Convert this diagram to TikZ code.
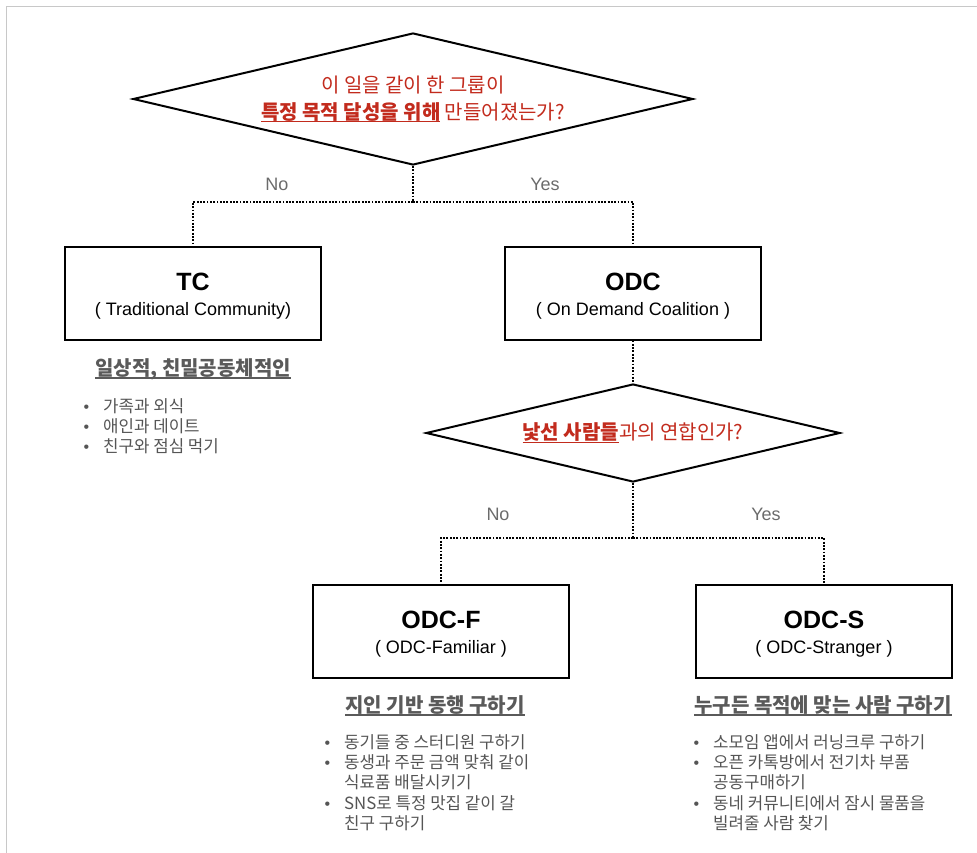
\documentclass[tikz,border=0pt]{standalone}
\usepackage{fontspec}
\setmainfont{Noto Sans CJK KR}
\newfontfamily\lat{Liberation Sans}
\usetikzlibrary{shapes.geometric}
\definecolor{qred}{HTML}{C22B1D}
\definecolor{hgray}{HTML}{5A5A5A}
\definecolor{tgray}{HTML}{555555}
\definecolor{lgray}{HTML}{6B6B6B}
\definecolor{framec}{HTML}{C8C8C8}
\newsavebox{\ulbox}
\newcommand{\myul}[1]{\sbox{\ulbox}{#1}\usebox{\ulbox}\hspace{-\wd\ulbox}\rule[-3.2pt]{\wd\ulbox}{1.3pt}}
\newcommand{\blt}{\makebox[19.6pt][l]{\lat\fontsize{16}{20}\selectfont •}}
\newcommand{\bcont}{\hspace*{19.6pt}}
\begin{document}
\begin{tikzpicture}[x=1pt,y=-1pt,
  dia/.style={diamond, draw, line width=2pt, inner sep=0pt, shape aspect=4.2, align=center,
    font=\fontsize{20}{27}\selectfont, text=qred},
  box/.style={draw, line width=2pt, minimum width=256pt, minimum height=93pt, inner sep=0pt},
  ttl/.style={font=\lat\bfseries\fontsize{25}{30}\selectfont, inner sep=0pt},
  sub/.style={font=\lat\fontsize{18}{22}\selectfont, inner sep=0pt},
  yn/.style={font=\lat\fontsize{18}{22}\selectfont, text=lgray, inner sep=0pt},
  head/.style={font=\bfseries\fontsize{20}{24}\selectfont, text=hgray, anchor=base, inner sep=0pt},
  lst/.style={font=\fontsize{16.8}{20}\selectfont, text=tgray, anchor=base west, inner sep=0pt},
  conn/.style={line width=1.8pt, dash pattern=on 1.8pt off 1.5pt}
]
\useasboundingbox (0,0) rectangle (977,853);
\draw[framec, line width=1pt] (6,853) -- (6,7) -- (977,7);

% first decision
\node[dia, minimum width=560pt, minimum height=132pt] (d1) at (413,99)
  {이 일을 같이 한 그룹이\\\myul{\textbf{특정 목적 달성을 위해}} 만들어졌는가?};

\node[box] (tc) at (193,293) {};
\node[ttl] (tct) at (193,282) {TC};
\node[sub] (tcs) at (193,311) {( Traditional Community)};

\node[box] (odc) at (633,293) {};
\node[ttl] (odct) at (633,282) {ODC};
\node[sub] (odcs) at (633,311) {( On Demand Coalition )};

\coordinate (j1) at (413,202);
\draw[conn] (d1.south) -- (j1);
\draw[conn] (j1) -| (tc.north);
\draw[conn] (j1) -| (odc.north);
\node[yn] (no1) at (277,184) {No};
\node[yn] (yes1) at (545,184) {Yes};

% TC description
\node[head] (tch) at (193,375.5) {\myul{일상적, 친밀공동체적인}};
\node[lst] (tc1) at (83.4,412) {\blt 가족과 외식};
\node[lst] (tc2) at (83.4,432) {\blt 애인과 데이트};
\node[lst] (tc3) at (83.4,452) {\blt 친구와 점심 먹기};

% second decision
\node[dia, minimum width=414pt, minimum height=98pt] (d2) at (633,433)
  {\myul{\textbf{낯선 사람들}}과의 연합인가?};
\draw[conn] (odc.south) -- (d2.north);

\node[box] (odcf) at (441,631) {};
\node[ttl] (odcft) at (441,620) {ODC-F};
\node[sub] (odcfs) at (441,649) {( ODC-Familiar )};

\node[box] (odcsb) at (824,631) {};
\node[ttl] (odcst) at (824,620) {ODC-S};
\node[sub] (odcss) at (824,649) {( ODC-Stranger )};

\coordinate (j2) at (633,538);
\draw[conn] (d2.south) -- (j2);
\draw[conn] (j2) -| (odcf.north);
\draw[conn] (j2) -| (odcsb.north);
\node[yn] (no2) at (498,514) {No};
\node[yn] (yes2) at (766,514) {Yes};

% ODC-F description
\node[head] (fh) at (435,712.5) {\myul{지인 기반 동행 구하기}};
\node[lst] (f1) at (324.4,748.5) {\blt 동기들 중 스터디원 구하기};
\node[lst] (f2) at (324.4,768.7) {\blt 동생과 주문 금액 맞춰 같이};
\node[lst] (f3) at (324.4,788.9) {\bcont 식료품 배달시키기};
\node[lst] (f4) at (324.4,809.1) {\blt SNS로 특정 맛집 같이 갈};
\node[lst] (f5) at (324.4,829.3) {\bcont 친구 구하기};

% ODC-S description
\node[head] (sh) at (823,712.5) {\myul{누구든 목적에 맞는 사람 구하기}};
\node[lst] (s1) at (693.4,748.5) {\blt 소모임 앱에서 러닝크루 구하기};
\node[lst] (s2) at (693.4,768.7) {\blt 오픈 카톡방에서 전기차 부품};
\node[lst] (s3) at (693.4,788.9) {\bcont 공동구매하기};
\node[lst] (s4) at (693.4,809.1) {\blt 동네 커뮤니티에서 잠시 물품을};
\node[lst] (s5) at (693.4,829.3) {\bcont 빌려줄 사람 찾기};
\end{tikzpicture}
\end{document}
